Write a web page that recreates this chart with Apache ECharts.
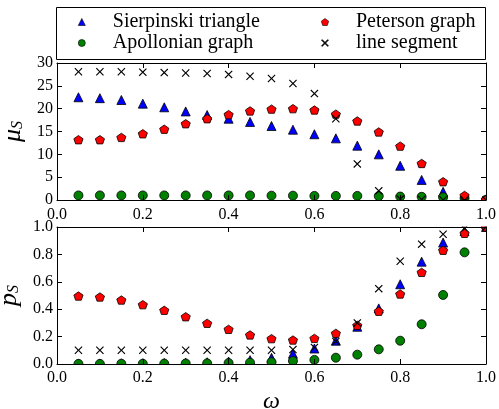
<!DOCTYPE html>
<html><head><meta charset="utf-8">
<script src="https://cdn.jsdelivr.net/npm/echarts@6/dist/echarts.min.js"></script>
<style>html,body{margin:0;padding:0;background:#fff}#c{width:499px;height:409px}</style>
</head><body><div id="c"></div>
<script>
const omega = [0.05,0.10,0.15,0.20,0.25,0.30,0.35,0.40,0.45,0.50,0.55,0.60,0.65,0.70,0.75,0.80,0.85,0.90,0.95,1.00];
const xTicks = [0,0.2,0.4,0.6,0.8,1.0];
const muTicks = [0,5,10,15,20,25,30];
const pTicks = [0,0.2,0.4,0.6,0.8,1.0];
const names = ['Sierpinski triangle','Apollonian graph','Peterson graph','line segment'];
// top panel: mu_S
const muSierpinski = [22.5,22.3,21.9,21.1,20.3,19.4,18.6,17.8,17.1,16.2,15.4,14.4,13.5,11.9,10.0,7.5,4.4,1.8,0.5,0.0];
const muApollonian = [1.0,1.0,1.0,1.0,1.0,1.0,1.0,1.0,1.0,0.95,0.95,0.9,0.9,0.9,0.85,0.75,0.7,0.6,0.4,0.05];
const muPeterson = [13.2,13.2,13.7,14.5,15.5,16.7,17.8,18.7,19.5,19.9,20.0,19.7,18.8,17.3,14.9,11.8,8.0,4.0,1.0,0.1];
const muLine = [28.1,28.1,28.1,28.0,27.9,27.8,27.7,27.5,27.1,26.6,25.5,23.3,17.8,7.9,2.0,0.2,0.1,0.0,0.0,0.0];
// bottom panel: p_S
const pSierpinski = [0.003,0.004,0.005,0.006,0.008,0.010,0.013,0.018,0.028,0.045,0.075,0.113,0.170,0.272,0.406,0.582,0.747,0.886,0.970,1.0];
const pApollonian = [0.001,0.001,0.002,0.002,0.003,0.004,0.005,0.007,0.010,0.014,0.022,0.030,0.046,0.068,0.107,0.170,0.290,0.504,0.815,1.0];
const pPeterson = [0.496,0.489,0.467,0.433,0.392,0.345,0.297,0.253,0.212,0.185,0.175,0.187,0.224,0.282,0.385,0.511,0.669,0.830,0.954,1.0];
const pLine = [0.10,0.10,0.10,0.10,0.10,0.10,0.10,0.10,0.10,0.10,0.105,0.12,0.165,0.30,0.55,0.75,0.875,0.947,0.99,1.0];

const FONT = "'Liberation Serif', 'Times New Roman', serif";
const L = 57, R = 486, T1 = 63, B1 = 200, T2 = 227, B2 = 364;
const TRI = 'path://M0,-1L1,1L-1,1Z';
const PENT = 'path://M0,-1L0.951,-0.309L0.588,0.809L-0.588,0.809L-0.951,-0.309Z';
const CROSS = 'path://M0,1L1,0L5,4L9,0L10,1L6,5L10,9L9,10L5,6L1,10L0,9L4,5Z';
const styles = [
  {symbol: TRI, size: [9,9], color: '#0000ff', border: '#000', bw: 0.8},
  {symbol: 'circle', size: 9, color: '#008000', border: '#000', bw: 0.8},
  {symbol: PENT, size: [9.2,8.8], color: '#ff0000', border: '#000', bw: 0.8},
  {symbol: CROSS, size: [8,8], color: '#000', border: '#000', bw: 0}
];
const topData = [muSierpinski, muApollonian, muPeterson, muLine];
const botData = [pSierpinski, pApollonian, pPeterson, pLine];

function xAx(grid, pos, labels, name, margin) {
  return {gridIndex: grid, type: 'value', position: pos, min: xTicks[0], max: xTicks[xTicks.length-1],
    interval: xTicks[1]-xTicks[0], z: 100,
    axisLine: {onZero: false, lineStyle: {color: '#000', width: 1}},
    axisTick: {inside: true, length: 5, lineStyle: {color: '#000'}},
    axisLabel: {show: labels, margin: margin || 6, color: '#000', fontFamily: FONT, fontSize: 16, formatter: v => v.toFixed(1)},
    splitLine: {show: false},
    name: name || '', nameLocation: 'middle', nameGap: 26,
    nameTextStyle: {fontFamily: FONT, fontStyle: 'italic', fontSize: 24, color: '#000'}};
}
function yAx(grid, pos, labels, ticks, fmt, nm) {
  return {gridIndex: grid, type: 'value', position: pos, min: ticks[0], max: ticks[ticks.length-1],
    interval: ticks[1]-ticks[0], z: 100,
    axisLine: {onZero: false, lineStyle: {color: '#000', width: 1}},
    axisTick: {inside: true, length: 5, lineStyle: {color: '#000'}},
    axisLabel: {show: labels, margin: 4, color: '#000', fontFamily: FONT, fontSize: 16, formatter: fmt},
    splitLine: {show: false},
    name: nm ? '{m|' + nm[0] + '}{s|' + nm[1] + '}' : '', nameLocation: 'middle', nameGap: 27, nameRotate: 90,
    nameTextStyle: {color: '#000', rich: {
      m: {fontFamily: FONT, fontStyle: 'italic', fontSize: 26, color: '#000', verticalAlign: 'bottom', lineHeight: 28},
      s: {fontFamily: FONT, fontStyle: 'italic', fontSize: 16, color: '#000', verticalAlign: 'bottom', lineHeight: 18}
    }}};
}
const series = [];
for (let k = 0; k < 4; k++) {
  const st = styles[k];
  [[topData[k], 0], [botData[k], 2]].forEach(([arr, ai]) => {
    series.push({type: 'scatter', name: names[k], xAxisIndex: ai, yAxisIndex: ai,
      symbol: st.symbol, symbolSize: st.size, symbolKeepAspect: true,
      itemStyle: {color: st.color, borderColor: st.border, borderWidth: st.bw, opacity: 1},
      emphasis: {disabled: true}, z: 2 + k * 0.01,
      data: omega.map((x, i) => [x, arr[i]])});
  });
}
function legend(items, left, w) {
  return {orient: 'vertical', left: left, top: 12, padding: 0, itemGap: 1,
    itemWidth: w, itemHeight: 7, selectedMode: false, z: 5,
    itemStyle: {borderWidth: 0.6},
    textStyle: {fontFamily: FONT, fontSize: 20, lineHeight: 20, color: '#000'},
    data: items.map(i => ({name: names[i], icon: styles[i].symbol}))};
}
const chart = echarts.init(document.getElementById('c'), null, {renderer: 'canvas'});
chart.setOption({
  animation: false, backgroundColor: '#fff',
  grid: [
    {left: L, top: T1, width: R - L, height: B1 - T1, containLabel: false, outerBoundsMode: 'none'},
    {left: L, top: T2, width: R - L, height: B2 - T2, containLabel: false, outerBoundsMode: 'none'}
  ],
  xAxis: [xAx(0,'bottom',true,'',7), xAx(0,'top',false), xAx(1,'bottom',true,'ω',6), xAx(1,'top',false)],
  yAxis: [yAx(0,'left',true,muTicks,v=>String(v),['μ','S']), yAx(0,'right',false,muTicks),
          yAx(1,'left',true,pTicks,v=>v.toFixed(1),['p','S']), yAx(1,'right',false,pTicks)],
  legend: [legend([0,1], 78, 52), legend([2,3], 321, 52)],
  series: series
});
// legend frame and clipping masks (drawn straight on the zrender layer)
const zr = chart.getZr();
const R_ = echarts.graphic.Rect;
zr.add(new R_({silent: true, z: 3, shape: {x: 56.5, y: 7.5, width: 429, height: 52},
  style: {fill: '#fff', stroke: '#000', lineWidth: 1}}));
[[R + 0.5, 0, 499 - R, 409], [0, B1 + 0.5, 499, T2 - B1 - 1], [0, B2 + 0.5, 499, 409 - B2], [0, T1, L - 0.5, B2 - T1]]
  .forEach(([x, y, w, h]) => zr.add(new R_({silent: true, z: 50, shape: {x, y, width: w, height: h}, style: {fill: '#fff'}})));
</script></body></html>
